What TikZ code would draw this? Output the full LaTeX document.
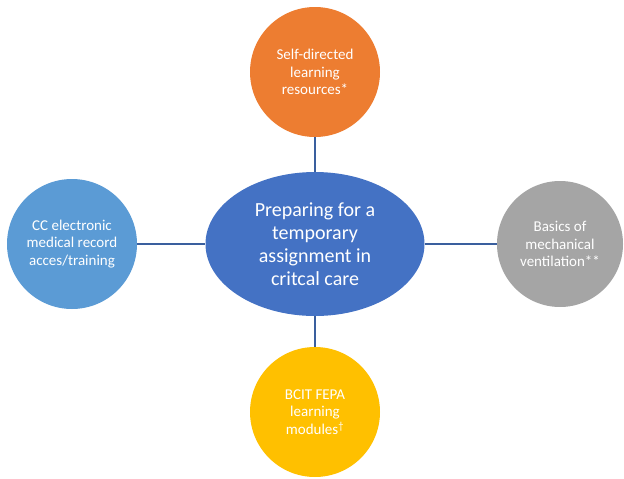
\documentclass[tikz,border=0pt]{standalone}
\usepackage{fontspec}
\setmainfont{Carlito}
\usetikzlibrary{shapes.geometric}
\definecolor{hubblue}{HTML}{4472C4}
\definecolor{linkblue}{HTML}{3A5F9E}
\definecolor{satorange}{HTML}{ED7D31}
\definecolor{satyellow}{HTML}{FFC000}
\definecolor{satblue}{HTML}{5B9BD5}
\definecolor{satgray}{HTML}{A5A5A5}
\begin{document}
\begin{tikzpicture}[x=1pt,y=-1pt,
	hub/.style={ellipse,fill=hubblue,text=white,minimum width=219pt,minimum height=144pt,inner sep=0pt,
		align=center,font=\fontsize{20}{23}\selectfont},
	sat/.style={circle,minimum size=130pt,inner sep=0pt,text=white,align=center,
		font=\fontsize{15}{17.5}\selectfont},
	link/.style={draw=linkblue,line width=1.2pt}]
	\useasboundingbox (0,0) rectangle (624,479);
	\node[hub] (H) at (315,244) {Preparing for a\\temporary\\assignment in\\critcal care};
	\node[sat,fill=satorange] (T) at (315,72) {Self-directed\\learning\\resources*};
	\node[sat,fill=satyellow] (B) at (315,412) {BCIT FEPA\\learning\\modules\textsuperscript{†}};
	\node[sat,fill=satblue] (L) at (72,244) {CC electronic\\medical record\\acces/training};
	\node[sat,fill=satgray,minimum size=126pt] (R) at (560,244) {Basics of\\mechanical\\ventilation**};
	\draw[link] (T)--(H) (H)--(B) (L)--(H) (H)--(R);
\end{tikzpicture}
\end{document}
